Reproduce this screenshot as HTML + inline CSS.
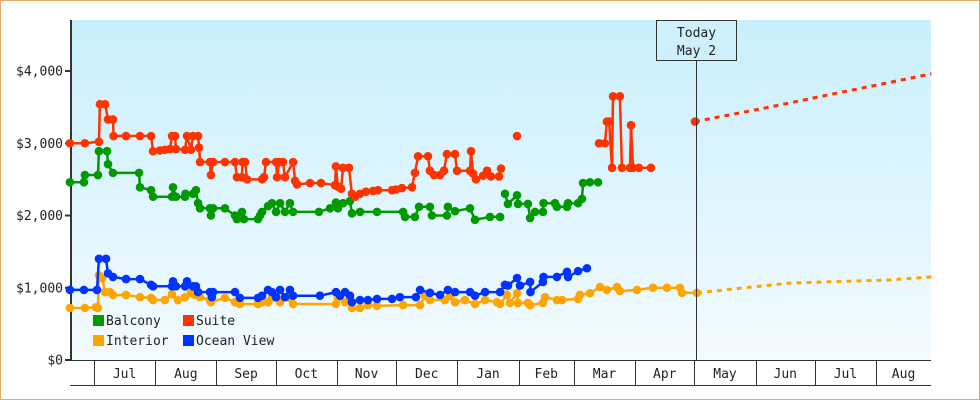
<!DOCTYPE html>
<html><head><meta charset="utf-8"><style>
html,body{margin:0;padding:0;background:#fff}
svg{display:block}
text{font-family:"DejaVu Sans Mono","Liberation Mono",monospace;fill:#222}
</style></head><body>
<svg id="chart" width="980" height="400" viewBox="0 0 980 400" xmlns="http://www.w3.org/2000/svg">
<defs><linearGradient id="bg" x1="0" y1="0" x2="0" y2="1"><stop offset="0" stop-color="#c9effc"/><stop offset="1" stop-color="#f3fbff"/></linearGradient></defs>
<rect x="0.5" y="0.5" width="979" height="399" fill="#fff" stroke="#e8aa66"/>
<rect x="71" y="20" width="860" height="340" fill="url(#bg)"/>
<g id="axes"></g>
<g id="series"></g>
<g id="overlay"></g>
</svg>
<script>
const yTicks=[0,1000,2000,3000,4000];
const yTickLabels=["$0","$1,000","$2,000","$3,000","$4,000"];
const monthStarts=[-19,0,31,62,92,123,153,184,215,243,274,304,335,365,396,427];
const monthLabels=["","Jul","Aug","Sep","Oct","Nov","Dec","Jan","Feb","Mar","Apr","May","Jun","Jul","Aug",""];
const todayDay=305;
const suite=[[-12.2,3000],[-4.6,3000],[2.5,3020],[3,3540],[5.6,3540],[7.1,3330],[9.6,3330],[9.9,3100],[16.2,3100],[23.3,3100],[28.9,3100],[29.9,2890],[33.4,2900],[35.9,2910],[38.5,2920],[39.5,3100],[41,3100],[41.5,2920],[46.1,2910],[47.1,3100],[49.1,2910],[50.1,3100],[52.7,3100],[53.2,2940],[53.7,2740],[58.7,2740],[59.2,2560],[60.3,2740],[66.3,2740],[71.4,2740],[72.4,2530],[74.9,2530],[75.2,2740],[76.5,2740],[77.5,2500],[85.1,2500],[86.1,2530],[87.1,2740],[92.2,2740],[92.7,2530],[93.7,2740],[95.7,2740],[96.7,2530],[100.8,2740],[101.8,2480],[102.8,2430],[109.4,2450],[114.9,2450],[122,2420],[122.5,2680],[123.5,2400],[125.1,2370],[126.1,2660],[129.1,2660],[130.6,2300],[132.2,2260],[134.7,2300],[137.7,2330],[141.3,2340],[143.8,2350],[150.9,2350],[152.9,2360],[155.9,2380],[161,2390],[162.5,2590],[164.1,2820],[169.1,2820],[170.1,2620],[172.2,2560],[175.2,2560],[177.2,2620],[178.7,2850],[182.8,2850],[183.8,2620],[190.4,2620],[190.9,2890],[191.9,2580],[193.4,2500],[197,2550],[199,2620],[201,2540],[205.1,2540],[206.1,2650],null,[214.2,3100],null,[255.7,3000],[258.7,3000],[259.7,3300],[260.8,3300],[262.3,2660],[262.8,3650],[266.3,3650],[267.3,2660],[271.4,2660],[271.9,3250],[272.9,2660],[275.9,2660],[282,2660],null,[304.3,3300]];
const suiteForecast=[[304.3,3300],[342,3500],[372,3670],[424,3960]];
const balcony=[[-12.2,2460],[-5.1,2460],[-4.6,2560],[2,2560],[2.5,2890],[6.6,2890],[7.1,2710],[9.6,2590],[22.8,2590],[23.3,2390],[28.9,2350],[29.9,2260],[39.5,2260],[40,2390],[41.5,2260],[46.1,2260],[46.3,2300],[50.1,2300],[51.6,2350],[52.7,2170],[53.7,2100],[58.7,2100],[59.2,2000],[60.3,2100],[66.3,2100],[71.4,2000],[72.4,1950],[74.9,2050],[75.9,1950],[83,1950],[84.1,2000],[85.1,2050],[88.1,2130],[90.1,2170],[92.2,2050],[94.2,2170],[96.7,2050],[99.2,2170],[100.8,2050],[113.9,2050],[119.5,2100],[122.5,2180],[123.5,2100],[126.1,2170],[129.6,2200],[130.6,2030],[134.7,2050],[143.3,2050],[156.5,2050],[157.5,1980],[162.5,1980],[164.6,2120],[170.1,2120],[171.1,2000],[178.7,2000],[179.2,2120],[182.8,2060],[190.4,2100],[192.9,1940],[200.5,1980],[205.6,1980],null,[208.1,2300],[209.6,2160],[214.2,2280],[214.7,2160],[219.7,2160],[220.8,1965],[223.3,2050],[227.3,2050],[227.6,2170],[233.4,2170],[234.4,2120],[239.5,2120],[240,2170],[245.1,2170],[247.1,2230],[247.6,2450],[251.1,2460],[255.2,2460]];
const interior=[[-12.2,720],[-4.6,720],[1,730],[2,720],[2.5,1170],[4.1,1130],[5.6,940],[8.1,940],[9.6,900],[16.2,900],[23.3,870],[28.9,860],[29.9,830],[35.9,830],[39.5,910],[42.5,830],[46.1,870],[49.1,930],[51.1,900],[53.7,870],[58.7,830],[59.2,800],[66.3,860],[71.4,800],[73.9,775],[83,775],[85.1,800],[88.1,800],[90.1,860],[94.2,800],[99.2,860],[100.8,775],[122.5,775],[123.5,860],[127.1,800],[129.6,860],[130.6,720],[134.7,720],[138.7,760],[143.3,750],[156.5,760],[165.1,760],[167.6,890],[170.1,830],[177.7,830],[180.3,890],[182.8,800],[187.8,830],[192.9,775],[198,830],[204.1,800],[205.6,775],[209.1,900],[210.6,790],[214.2,925],[214.7,790],[219.7,790],[220.8,760],[227.3,790],[228.4,870],[234.4,830],[237,830],[245.1,845],[246.1,900],[251.1,925],[256.2,1010],[259.7,970],[264.8,1010],[266.3,955],[274.9,970],[283,1000],[290.1,1000],[296.7,1000],[297.7,930],[305.3,930]];
const interiorForecast=[[305.3,930],[352,1065],[402,1107],[424,1150]];
const ocean=[[-12.2,970],[-5.1,970],[1.5,970],[2.5,1400],[6.1,1400],[7.1,1200],[9.6,1150],[16.2,1120],[23.3,1120],[28.9,1040],[29.9,1020],[39.5,1020],[40,1090],[41.5,1020],[46.1,1020],[47.1,1090],[50.1,1020],[51.6,1020],[52.7,940],[58.7,940],[59.7,870],[60.3,940],[71.4,940],[73.9,860],[83,860],[85.1,890],[88.1,970],[90.1,940],[92.2,870],[94.2,970],[96.7,870],[99.2,970],[100.8,890],[114.4,890],[122.5,940],[124.6,890],[127.1,940],[129.6,890],[130.6,800],[134.7,830],[138.7,830],[143.3,845],[150.9,845],[154.9,870],[163,870],[165.1,970],[170.1,930],[175.2,900],[179.2,970],[182.8,940],[190.4,940],[192.9,890],[198,940],[205.6,940],[208.1,1040],[209.6,1030],[214.2,1135],[215.7,1030],[220.8,1080],[221,940],[227.3,1080],[227.6,1150],[234.4,1150],[239.5,1220],[240,1150],[245.1,1230],[249.6,1270]];

const NS="http://www.w3.org/2000/svg";
const X0=71,X1=931,Y0=360;
function xs(d){return 94+d*1.975;}
function ys(v){return 360-v*0.07225;}
function mk(tag,attrs,parent){const e=document.createElementNS(NS,tag);for(const k in attrs)e.setAttribute(k,attrs[k]);parent.appendChild(e);return e;}
const axes=document.getElementById('axes'),ser=document.getElementById('series'),ov=document.getElementById('overlay');

// y axis
yTicks.forEach((v,i)=>{
  const t=mk('line',{x1:65,x2:71,y1:ys(v),y2:ys(v),stroke:'#333','stroke-width':2},axes);
  
  
  const l=mk('text',{x:63,y:ys(v)+4.5,'text-anchor':'end','font-size':13},axes);
  
  
  l.textContent=yTickLabels[i];
});
const ya=mk('line',{x1:71,x2:71,y1:20,y2:361,stroke:'#333','stroke-width':2},axes);


// x axis
const xa=mk('line',{x1:71,x2:931,y1:360.5,y2:360.5,stroke:'#333','stroke-width':1},axes);


const xb=mk('line',{x1:70,x2:931,y1:385.5,y2:385.5,stroke:'#333','stroke-width':1},axes);


for(let i=0;i<monthStarts.length-1;i++){
  const a=Math.max(X0,xs(monthStarts[i])),b=Math.min(X1,xs(monthStarts[i+1]));
  if(i>0&&xs(monthStarts[i])<X1){
    const s=mk('line',{x1:Math.round(xs(monthStarts[i]))+.5,x2:Math.round(xs(monthStarts[i]))+.5,y1:360,y2:385,stroke:'#333'},axes);
    
    
  }
  if(monthLabels[i]){
    const l=mk('text',{x:(a+b)/2,y:378,'text-anchor':'middle','font-size':13},axes);
    
    
    l.textContent=monthLabels[i];
  }
}
function pathFor(arr){let d='',pen=false;arr.forEach(p=>{if(!p){pen=false;return;}d+=(pen?'L':'M')+xs(p[0]).toFixed(1)+' '+ys(p[1]).toFixed(1);pen=true;});return d;}
function drawSeries(name,arr,color){
  const g=mk('g',{},ser);
  
  
  const p=mk('path',{d:pathFor(arr),fill:'none',stroke:color,'stroke-width':2.5,'stroke-linejoin':'miter'},g);
  
  
  arr.forEach(q=>{if(!q)return;
    const c=mk('circle',{cx:xs(q[0]),cy:ys(q[1]),r:4.3,fill:color},g);
    
    
  });
}
function drawForecast(name,arr,color){
  const p=mk('path',{d:pathFor(arr),fill:'none',stroke:color,'stroke-width':3,'stroke-dasharray':'5 5'},ser);
  
  
}
drawForecast('suite',suiteForecast,'#ff3300');
drawForecast('interior',interiorForecast,'#ffa500');
drawSeries('interior',interior,'#ffa500');
drawSeries('ocean-view',ocean,'#0033ff');
drawSeries('balcony',balcony,'#009900');
drawSeries('suite',suite,'#ff3300');

// today marker
const tx=Math.round(xs(todayDay))+.5;
const tl=mk('line',{x1:tx,x2:tx,y1:60,y2:360,stroke:'#333'},ov);


const tb=mk('rect',{x:tx-40,y:20.5,width:80,height:40,fill:'#cdf0fc',stroke:'#333'},ov);


const t1=mk('text',{x:tx,y:37,'text-anchor':'middle','font-size':13},ov);


t1.textContent='Today';
const t2=mk('text',{x:tx,y:55,'text-anchor':'middle','font-size':13},ov);


t2.textContent='May 2';

// legend
const legendNames=['Balcony','Suite','Interior','Ocean View'];
const legendColors=['#009900','#ff3300','#ffa500','#0033ff'];
legendNames.forEach((n,i)=>{
  const lx=i%2?183:93,ly=i<2?315:335;
  const g=mk('g',{},ov);
  
  
  mk('rect',{x:lx,y:ly,width:11,height:11,fill:legendColors[i]},g);
  const t=mk('text',{x:lx+13,y:ly+10,'font-size':13},g);
  t.textContent=n;
});
</script>
</body></html>
